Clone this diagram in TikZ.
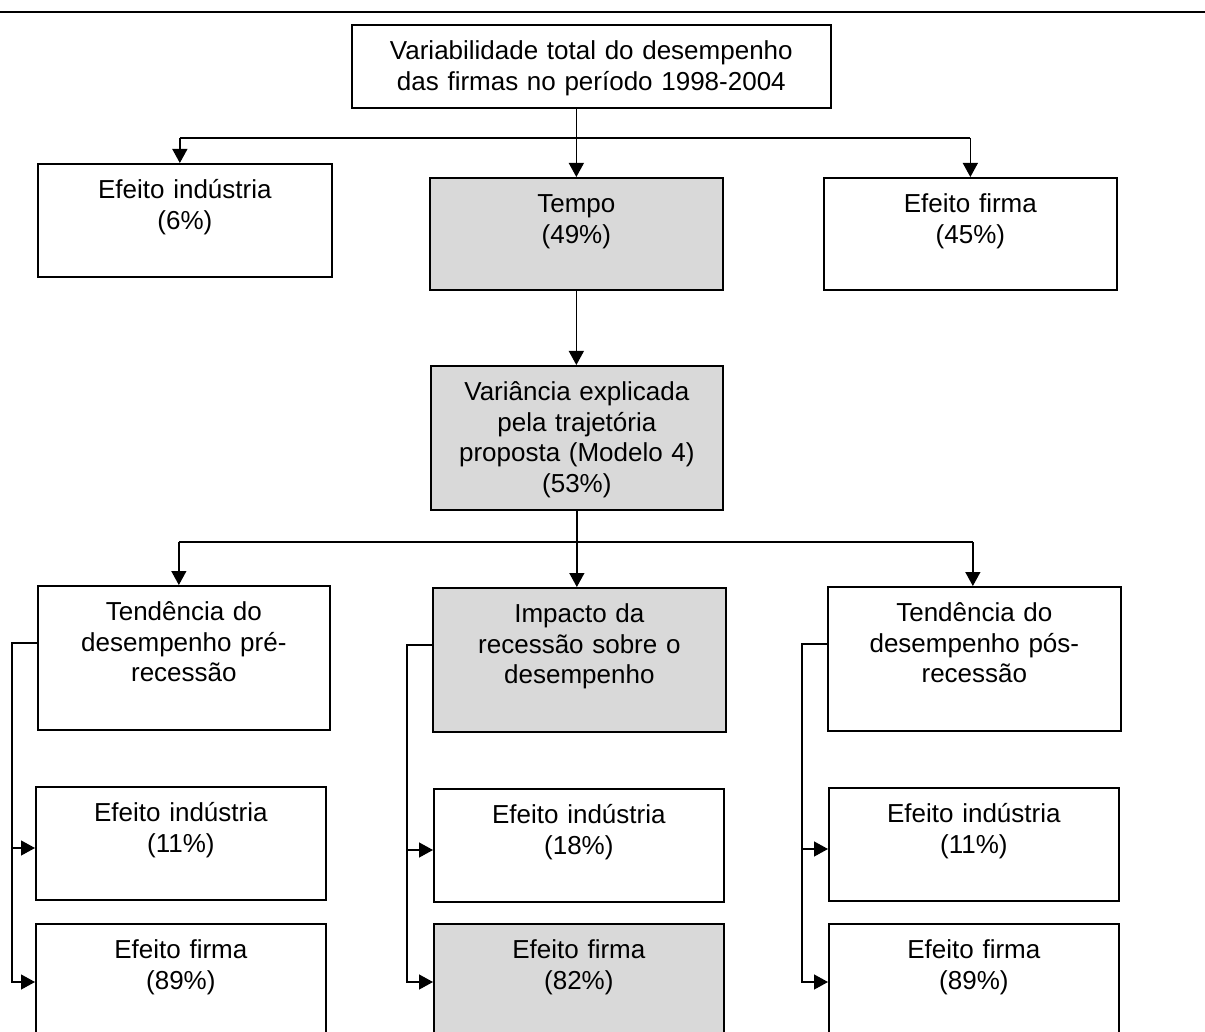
\documentclass[tikz,border=0pt]{standalone}
\usepackage{fontspec}
\setmainfont{Liberation Sans}
\usetikzlibrary{arrows.meta}
\definecolor{boxgray}{HTML}{D9D9D9}
\tikzset{
  box/.style={draw, line width=0.85pt, anchor=north west, inner sep=0pt,
    align=center, text height=17.5pt, font=\fontsize{13}{15.25}\selectfont},
  greybox/.style={box, fill=boxgray},
  line/.style={line width=0.65pt},
  arr/.style={line width=0.65pt, -{Triangle[length=7pt,width=7.5pt]}},
}
\begin{document}
\begin{tikzpicture}[x=0.5pt,y=-0.5pt]
  \useasboundingbox (0,0) rectangle (1205,1032);
  \clip (0,0) rectangle (1205,1032);
  \draw[line width=1.1pt] (0,12) -- (1205,12);

  % top box
  \node[box, text width=239.5pt, text depth=24pt] (tot) at (351,24)
    {Variabilidade total do desempenho\\das firmas no período 1998-2004};

  % first level
  \node[box, text width=147pt, text depth=39pt] (ind) at (37,163) {Efeito indústria\\(6\%)};
  \node[greybox, text width=146.5pt, text depth=38.5pt] (tempo) at (429,177) {Tempo\\(49\%)};
  \node[box, text width=146.5pt, text depth=38.5pt] (firma) at (823,177) {Efeito firma\\(45\%)};
  \node[greybox, text width=146pt, text depth=54.5pt] (var) at (430,365)
    {Variância explicada\\pela trajetória\\proposta (Modelo 4)\\(53\%)};

  % second level
  \node[box, text width=146pt, text depth=54.5pt] (tpre) at (37,585)
    {Tendência do\\desempenho pré-\\recessão};
  \node[greybox, text width=146.5pt, text depth=54.5pt] (imp) at (432,587)
    {Impacto da\\recessão sobre o\\desempenho};
  \node[box, text width=146.5pt, text depth=54.5pt] (tpos) at (827,586)
    {Tendência do\\desempenho pós-\\recessão};

  % effects per period
  \node[box, text width=145pt, text depth=39pt] (indL) at (35,786) {Efeito indústria\\(11\%)};
  \node[box, text width=145pt, text depth=52.5pt] (firmaL) at (35,923) {Efeito firma\\(89\%)};
  \node[box, text width=145pt, text depth=39pt] (indC) at (433,788) {Efeito indústria\\(18\%)};
  \node[greybox, text width=145pt, text depth=52.5pt] (firmaC) at (433,923) {Efeito firma\\(82\%)};
  \node[box, text width=145pt, text depth=39pt] (indR) at (828,787) {Efeito indústria\\(11\%)};
  \node[box, text width=145pt, text depth=52.5pt] (firmaR) at (828,923) {Efeito firma\\(89\%)};

  % connectors
  \coordinate (fork1) at (576,138);
  \coordinate (fork2) at (576,542);
  \draw[arr] (tot.south -| tempo.north) -- (tempo.north);
  \draw[line] ([xshift=-2.5pt]ind.north |- fork1) -- (firma.north |- fork1);
  \draw[arr] ([xshift=-2.5pt]ind.north |- fork1) -- ([xshift=-2.5pt]ind.north);
  \draw[arr] (firma.north |- fork1) -- (firma.north);
  \draw[arr] (tempo.south) -- (tempo.south |- var.north);
  \draw[arr] (var.south) -- (var.south |- imp.north);
  \draw[line] ([xshift=-2.5pt]tpre.north |- fork2) -- ([xshift=-0.75pt]tpos.north |- fork2);
  \draw[arr] ([xshift=-2.5pt]tpre.north |- fork2) -- ([xshift=-2.5pt]tpre.north);
  \draw[arr] ([xshift=-0.75pt]tpos.north |- fork2) -- ([xshift=-0.75pt]tpos.north);
  \foreach \head/\indn/\firmn in {tpre/indL/firmaL, imp/indC/firmaC, tpos/indR/firmaR} {
    \draw[arr] ([yshift=-29pt]\head.north west) -- ++(-12.5pt,0) |- ([yshift=-31pt]\indn.north west);
    \draw[arr] ([yshift=-29pt]\head.north west) -- ++(-12.5pt,0) |- ([yshift=-29.5pt]\firmn.north west);
  }
\end{tikzpicture}
\end{document}
